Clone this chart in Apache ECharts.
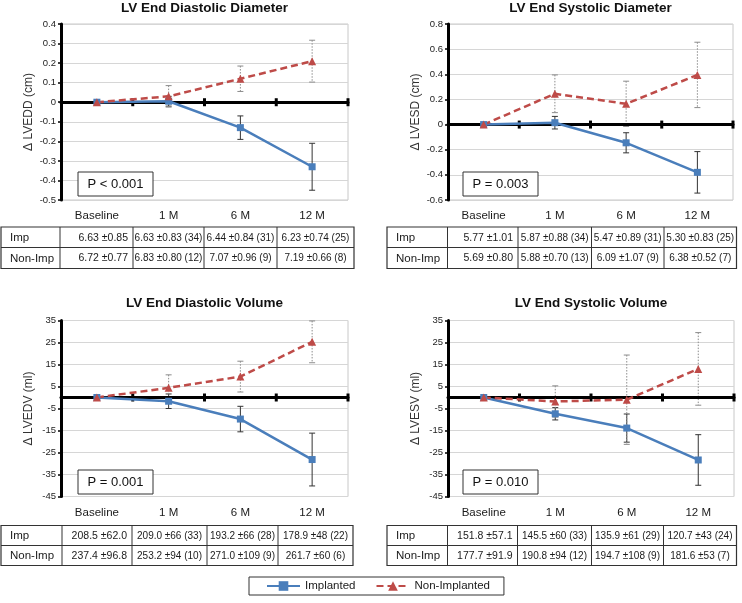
<!DOCTYPE html>
<html><head><meta charset="utf-8">
<script src="https://cdn.jsdelivr.net/npm/echarts@6/dist/echarts.min.js"></script>
<style>html,body{margin:0;padding:0;background:#fff}#c{width:742px;height:603px}</style>
</head><body><div id="c"></div>
<script>
// ---------- DATA ----------
const categories = ['Baseline', '1 M', '6 M', '12 M'];
const seriesNames = ['Implanted', 'Non-Implanted'];
const rowLabels = ['Imp', 'Non-Imp'];

// LV End Diastolic Diameter (change, cm)
const eddImp = [0, 0.005, -0.13, -0.33];
const eddImpErr = [0, 0.025, 0.06, 0.12];
const eddNon = [0, 0.03, 0.12, 0.21];
const eddNonErr = [0, 0.055, 0.065, 0.107];
const eddTblImp = ['6.63 ±0.85', '6.63 ±0.83 (34)', '6.44 ±0.84 (31)', '6.23 ±0.74 (25)'];
const eddTblNon = ['6.72 ±0.77', '6.83 ±0.80 (12)', '7.07 ±0.96 (9)', '7.19 ±0.66 (8)'];

// LV End Systolic Diameter (change, cm)
const esdImp = [0, 0.015, -0.145, -0.38];
const esdImpErr = [0, 0.05, 0.08, 0.165];
const esdNon = [0, 0.245, 0.165, 0.395];
const esdNonErr = [0, 0.15, 0.18, 0.26];
const esdTblImp = ['5.77 ±1.01', '5.87 ±0.88 (34)', '5.47 ±0.89 (31)', '5.30 ±0.83 (25)'];
const esdTblNon = ['5.69 ±0.80', '5.88 ±0.70 (13)', '6.09 ±1.07 (9)', '6.38 ±0.52 (7)'];

// LV End Diastolic Volume (change, ml)
const edvImp = [0, -1.7, -9.8, -28.2];
const edvImpErr = [0, 3.3, 5.8, 12];
const edvNon = [0, 4.4, 9.5, 25.3];
const edvNonErr = [0, 5.9, 7, 9.5];
const edvTblImp = ['208.5 ±62.0', '209.0 ±66 (33)', '193.2 ±66 (28)', '178.9 ±48 (22)'];
const edvTblNon = ['237.4 ±96.8', '253.2 ±94 (10)', '271.0 ±109 (9)', '261.7 ±60 (6)'];

// LV End Systolic Volume (change, ml)
const esvImp = [0, -7.4, -13.9, -28.4];
const esvImpErr = [0, 2.8, 6.4, 11.5];
const esvNon = [0, -1.8, -1, 13];
const esvNonErr = [0, 7.1, 20.3, 16.5];
const esvTblImp = ['151.8 ±57.1', '145.5 ±60 (33)', '135.9 ±61 (29)', '120.7 ±43 (24)'];
const esvTblNon = ['177.7 ±91.9', '190.8 ±94 (12)', '194.7 ±108 (9)', '181.6 ±53 (7)'];

const titles = ['LV End Diastolic Diameter', 'LV End Systolic Diameter', 'LV End Diastolic Volume', 'LV End Systolic Volume'];
const yNames = ['\u0394 LVEDD (cm)', '\u0394 LVESD (cm)', '\u0394 LVEDV (ml)', '\u0394 LVESV (ml)'];
const pValues = ['P < 0.001', 'P = 0.003', 'P = 0.001', 'P = 0.010'];
const yMin = [-0.5, -0.6, -45, -45];
const yMax = [0.4, 0.8, 35, 35];
const yInterval = [0.1, 0.2, 10, 10];

// ---------- LAYOUT ----------
const FONT = '"Liberation Sans", Arial, Helvetica, sans-serif';
const BLUE = '#4a7ebb', RED = '#be4b48';
const panels = [
  { data: [eddImp, eddImpErr, eddNon, eddNonErr], tbl: [eddTblImp, eddTblNon],
    grid: { left: 61, top: 24, width: 287, height: 176 }, titleY: 8,
    pBox: [78, 172, 75, 24], tx: [1, 60, 133, 204, 277, 354], ty: [227, 247.5, 268.5] },
  { data: [esdImp, esdImpErr, esdNon, esdNonErr], tbl: [esdTblImp, esdTblNon],
    grid: { left: 448, top: 24, width: 285, height: 176 }, titleY: 8,
    pBox: [463, 172, 75, 24], tx: [387, 447.5, 518, 591.5, 664, 736.5], ty: [227, 247.5, 268.5] },
  { data: [edvImp, edvImpErr, edvNon, edvNonErr], tbl: [edvTblImp, edvTblNon],
    grid: { left: 61, top: 320.5, width: 287, height: 176 }, titleY: 303.5,
    pBox: [78, 470, 75, 24], tx: [1, 62, 132, 207, 278, 353], ty: [525.5, 545.5, 565.5] },
  { data: [esvImp, esvImpErr, esvNon, esvNonErr], tbl: [esvTblImp, esvTblNon],
    grid: { left: 448, top: 320.5, width: 286, height: 176 }, titleY: 303.5,
    pBox: [463, 470, 75, 24], tx: [387, 447.5, 517.5, 591.5, 663.5, 736.5], ty: [525.5, 545.5, 565.5] }
];

const grids = [], xAxes = [], yAxes = [], series = [], graphics = [];

function errData(mean, err) {
  const out = [];
  mean.forEach((m, i) => { if (err[i] > 0) out.push([i, m - err[i], m + err[i]]); });
  return out;
}
function errRender(color, dash) {
  return function (params, api) {
    const x = api.value(0);
    const top = api.coord([x, api.value(2)]);
    const bot = api.coord([x, api.value(1)]);
    const w = 3;
    const st = { stroke: color, lineWidth: 1, lineDash: dash, fill: null };
    return { type: 'group', children: [
      { type: 'line', shape: { x1: top[0], y1: top[1], x2: bot[0], y2: bot[1] }, style: st },
      { type: 'line', shape: { x1: top[0] - w, y1: top[1], x2: top[0] + w, y2: top[1] }, style: { stroke: color, lineWidth: 1 } },
      { type: 'line', shape: { x1: bot[0] - w, y1: bot[1], x2: bot[0] + w, y2: bot[1] }, style: { stroke: color, lineWidth: 1 } }
    ] };
  };
}
// crossing tick marks on the zero axis, at the category band boundaries
function tickRender(params, api) {
  const c = api.coord([api.value(0), 0]);
  const half = api.size([1, 0])[0] / 2;
  const x = c[0] + half;
  return { type: 'line', shape: { x1: x, y1: c[1] - 4, x2: x, y2: c[1] + 4 },
    style: { stroke: '#000', lineWidth: 3 } };
}

panels.forEach((p, g) => {
  grids.push(Object.assign({ show: true, borderColor: '#c8c8c8', borderWidth: 1, backgroundColor: 'transparent' }, p.grid));
  // axis on zero
  xAxes.push({ type: 'category', gridIndex: g, data: categories, position: 'bottom', boundaryGap: true,
    axisLine: { show: true, onZero: true, lineStyle: { color: '#000', width: 3 } },
    axisTick: { show: false }, axisLabel: { show: false }, splitLine: { show: false }, z: 5 });
  // label axis at bottom (table header)
  xAxes.push({ type: 'category', gridIndex: g, data: categories, position: 'bottom', boundaryGap: true,
    axisLine: { show: false, onZero: false }, axisTick: { show: false },
    axisLabel: { show: true, margin: 10, fontSize: 11.5, color: '#1a1a1a', fontFamily: FONT },
    splitLine: { show: false } });
  yAxes.push({ type: 'value', gridIndex: g, min: yMin[g], max: yMax[g], interval: yInterval[g],
    name: yNames[g], nameLocation: 'middle', nameGap: 26,
    nameTextStyle: { fontSize: 12, color: '#333', fontFamily: FONT },
    axisLine: { show: true, lineStyle: { color: '#000', width: 3 } },
    axisTick: { show: true, length: 3, lineStyle: { color: '#000', width: 1.5 } },
    axisLabel: { fontSize: 9.5, color: '#222', margin: 5, fontFamily: FONT },
    splitLine: { show: true, lineStyle: { color: '#d6d6d6', width: 1 } } });

  const [imp, impErr, non, nonErr] = p.data;
  series.push({ type: 'custom', name: 'ticks' + g, xAxisIndex: 2 * g, yAxisIndex: g,
    renderItem: tickRender, data: categories.map((c, i) => [i, 0]), encode: { x: 0, y: 1 }, z: 6, silent: true });
  series.push({ type: 'custom', name: 'errImp' + g, xAxisIndex: 2 * g, yAxisIndex: g,
    renderItem: errRender('#333', null), data: errData(imp, impErr), encode: { x: 0, y: [1, 2] }, z: 3, silent: true });
  series.push({ type: 'custom', name: 'errNon' + g, xAxisIndex: 2 * g, yAxisIndex: g,
    renderItem: errRender('#8c8c8c', [1.5, 1.5]), data: errData(non, nonErr), encode: { x: 0, y: [1, 2] }, z: 3, silent: true });
  series.push({ type: 'line', name: seriesNames[0], xAxisIndex: 2 * g, yAxisIndex: g, data: imp,
    symbol: 'rect', symbolSize: 7, color: BLUE, lineStyle: { color: BLUE, width: 2.5 },
    itemStyle: { color: BLUE }, z: 7, animation: false });
  series.push({ type: 'line', name: seriesNames[1], xAxisIndex: 2 * g, yAxisIndex: g, data: non,
    symbol: 'triangle', symbolSize: 8, color: RED, lineStyle: { color: RED, width: 2.5, type: [7, 4] },
    itemStyle: { color: RED }, z: 7, animation: false });

  // Title
  const cx = p.grid.left + p.grid.width / 2;
  graphics.push({ type: 'text', x: cx, y: p.titleY,
    style: { text: titles[g], fontSize: 13.5, fontWeight: 'bold', fontFamily: FONT, fill: '#111', align: 'center', verticalAlign: 'middle' } });
  // P box
  const [bx, by, bw, bh] = p.pBox;
  graphics.push({ type: 'rect', z: 10, shape: { x: bx, y: by, width: bw, height: bh },
    style: { fill: '#fff', stroke: '#333', lineWidth: 1 } });
  graphics.push({ type: 'text', z: 11, x: bx + bw / 2, y: by + bh / 2 + 0.5,
    style: { text: pValues[g], fontSize: 13, fontFamily: FONT, fill: '#111', align: 'center', verticalAlign: 'middle' } });
  // Table
  const tx = p.tx, ty = p.ty;
  graphics.push({ type: 'rect', shape: { x: tx[0], y: ty[0], width: tx[5] - tx[0], height: ty[2] - ty[0] },
    style: { fill: 'none', stroke: '#333', lineWidth: 1.2 } });
  graphics.push({ type: 'line', shape: { x1: tx[0], y1: ty[1], x2: tx[5], y2: ty[1] }, style: { stroke: '#333', lineWidth: 1 } });
  for (let k = 1; k < 5; k++) {
    graphics.push({ type: 'line', shape: { x1: tx[k], y1: ty[0], x2: tx[k], y2: ty[2] }, style: { stroke: '#333', lineWidth: 1 } });
  }
  for (let r = 0; r < 2; r++) {
    const yc = (ty[r] + ty[r + 1]) / 2 + 0.5;
    graphics.push({ type: 'text', x: tx[0] + 9, y: yc,
      style: { text: rowLabels[r], fontSize: 11.5, fontFamily: FONT, fill: '#1a1a1a', align: 'left', verticalAlign: 'middle' } });
    const row = p.tbl[r];
    for (let c = 0; c < 4; c++) {
      const left = tx[c + 1], right = tx[c + 2];
      if (c === 0) {
        graphics.push({ type: 'text', x: right - 5, y: yc,
          style: { text: row[c], fontSize: 10.5, fontFamily: FONT, fill: '#1a1a1a', align: 'right', verticalAlign: 'middle' } });
      } else {
        graphics.push({ type: 'text', x: (left + right) / 2, y: yc,
          style: { text: row[c], fontSize: 10, fontFamily: FONT, fill: '#1a1a1a', align: 'center', verticalAlign: 'middle' } });
      }
    }
  }
});

const chart = echarts.init(document.getElementById('c'), null, { renderer: 'canvas' });
chart.setOption({
  animation: false,
  backgroundColor: '#fff',
  textStyle: { fontFamily: FONT },
  grid: grids,
  xAxis: xAxes,
  yAxis: yAxes,
  series: series,
  legend: {
    data: seriesNames, left: 249, top: 577, orient: 'horizontal',
    borderColor: '#333', borderWidth: 1, borderRadius: 0, padding: [3, 14, 3, 17],
    itemWidth: 33, itemHeight: 12, itemGap: 20, selectedMode: false,
    textStyle: { fontSize: 11.5, color: '#1a1a1a', fontFamily: FONT }
  },
  graphic: graphics
});
</script>
</body></html>
